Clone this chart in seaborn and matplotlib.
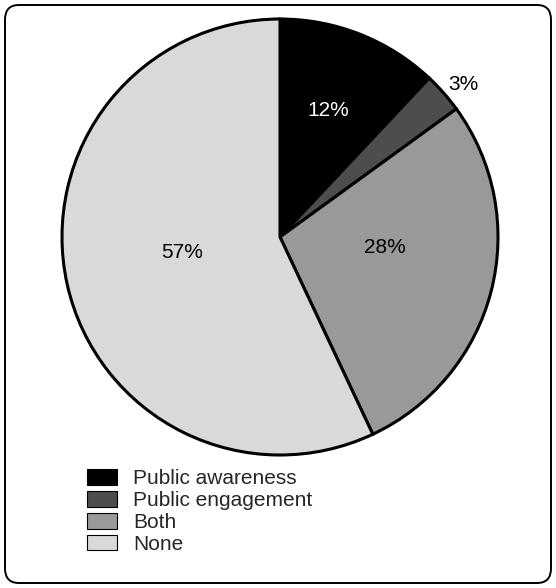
import matplotlib
matplotlib.use("Agg")
import matplotlib.pyplot as plt
import matplotlib.patches as mpatches
import seaborn as sns

# Slice data (clockwise from the top)
categories = ["Public awareness", "Public engagement", "Both", "None"]
shares = [12, 3, 28, 57]
colors = ["#000000", "#4d4d4d", "#999999", "#d9d9d9"]
text_colors = ["white", "black", "black", "black"]
# label spots in pie-radius units
label_spots = [(0.22, 0.58), (0.84, 0.70), (0.48, -0.05), (-0.45, -0.07)]

sns.set_theme(style="white")
plt.rcParams["font.family"] = ["Liberation Sans", "DejaVu Sans"]

W, H = 556, 588
fig = plt.figure(figsize=(W / 100, H / 100), dpi=100)

# rounded outer frame
frame = mpatches.FancyBboxPatch((5 / W, 5 / H), (W - 10) / W, (H - 10) / H,
                                boxstyle="round,pad=0,rounding_size=0.025",
                                transform=fig.transFigure, fill=False,
                                edgecolor="black", linewidth=1.4)
fig.patches.append(frame)

cx, cy, r = 280, 237, 218
ax = fig.add_axes([(cx - r) / W, (H - cy - r) / H, 2 * r / W, 2 * r / H])
wedges, _ = ax.pie(shares, colors=colors, startangle=90, counterclock=False,
                   wedgeprops=dict(edgecolor="black", linewidth=2.2))
for w in wedges:
    w.set_clip_on(False)
ax.set_xlim(-1, 1)
ax.set_ylim(-1, 1)

for val, (x, y), tc in zip(shares, label_spots, text_colors):
    ax.text(x, y, f"{val}%", ha="center", va="center", fontsize=15, color=tc)

handles = [mpatches.Patch(facecolor=c, edgecolor="black", linewidth=0.8, label=l)
           for c, l in zip(colors, categories)]
fig.legend(handles=handles, loc="upper left", bbox_to_anchor=(79 / W, 1 - 461 / H),
           frameon=False, fontsize=15, handlelength=1.4, handleheight=0.78,
           handletextpad=0.8, labelspacing=0.13, borderaxespad=0)

fig.savefig("out.png", dpi=100)
